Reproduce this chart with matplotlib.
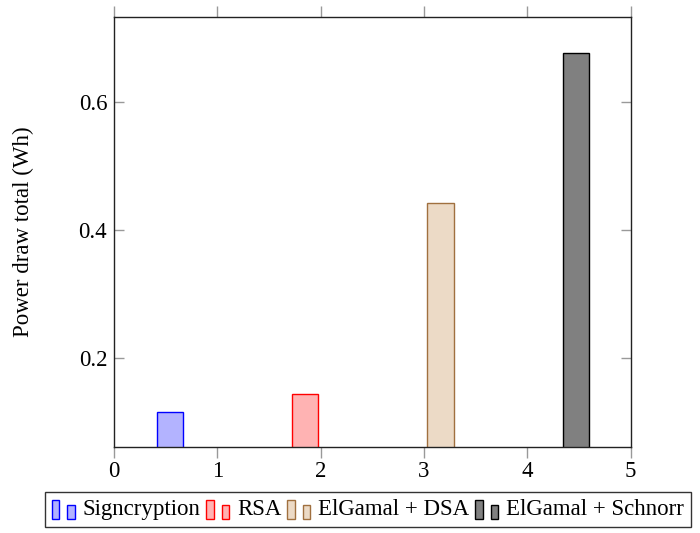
import matplotlib
matplotlib.use("Agg")
import matplotlib.pyplot as plt
from matplotlib.patches import Rectangle
from matplotlib.legend_handler import HandlerBase

# data
schemes = ["Signcryption", "RSA", "ElGamal + DSA", "ElGamal + Schnorr"]
positions = [0.54, 1.85, 3.16, 4.47]
power_wh = [0.1156, 0.143, 0.4417, 0.6766]

fills = ["#b3b3ff", "#ffb3b3", "#ecdac6", "#808080"]
edges = ["#0000ff", "#ff0000", "#a0703f", "#000000"]

plt.rcParams["font.family"] = ["Liberation Serif", "DejaVu Serif"]
plt.rcParams["font.size"] = 16.5


class TwoBarHandler(HandlerBase):
    # pgfplots style ybar legend image: two small bars
    def create_artists(self, legend, orig_handle, xdescent, ydescent,
                       width, height, fontsize, trans):
        fc = orig_handle.get_facecolor()
        ec = orig_handle.get_edgecolor()
        w = width * 0.3
        r1 = Rectangle((-xdescent, -ydescent - 3), w, height * 1.2,
                       facecolor=fc, edgecolor=ec, lw=1, transform=trans)
        r2 = Rectangle((-xdescent + width * 0.62, -ydescent - 3), w, height * 0.9,
                       facecolor=fc, edgecolor=ec, lw=1, transform=trans)
        return [r1, r2]


fig = plt.figure(figsize=(7.0, 5.33), dpi=100)
ax = fig.add_axes([0.163, 0.1608, 0.738, 0.8079])

bars = []
for x, v, fc, ec, lab in zip(positions, power_wh, fills, edges, schemes):
    b = ax.bar(x, v, width=0.255, color=fc, edgecolor=ec, linewidth=1, label=lab)
    bars.append(b.patches[0])

ax.set_xlim(0, 5)
ax.set_ylim(0.06, 0.7328)
ax.set_xticks([0, 1, 2, 3, 4, 5])
ax.set_yticks([0.2, 0.4, 0.6])
ax.set_yticklabels(["0.2", "0.4", "0.6"])
ax.set_ylabel("Power draw total (Wh)", labelpad=32)

ax.tick_params(axis="x", direction="out", top=True, length=8, width=1,
               color="#999999", pad=2)
ax.tick_params(axis="y", direction="in", right=True, length=7.5, width=1,
               color="#999999", pad=5)
for s in ax.spines.values():
    s.set_linewidth(1)
    s.set_color("#222222")

leg = ax.legend(bars, schemes, loc="upper center", bbox_to_anchor=(0.491, -0.078),
                ncol=4, frameon=True, fancybox=False, edgecolor="black",
                handler_map={Rectangle: TwoBarHandler()},
                handlelength=1.1, handletextpad=0.25, columnspacing=0.25,
                borderpad=0.3, fontsize=16.5)
leg.get_frame().set_linewidth(1)

fig.savefig("out.png", dpi=100)
